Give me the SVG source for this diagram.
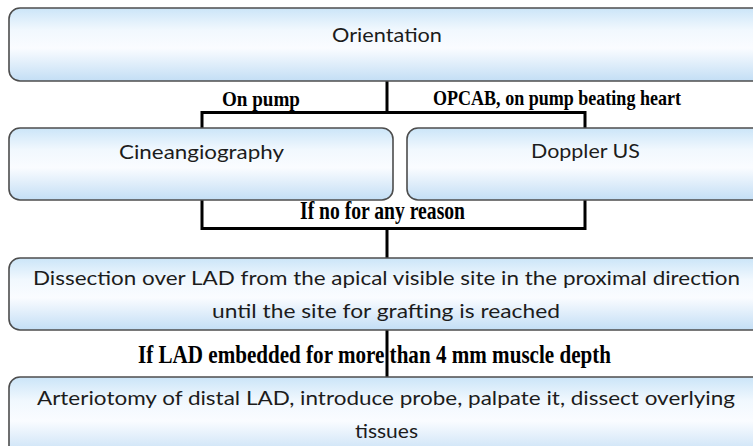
<svg xmlns="http://www.w3.org/2000/svg" width="753" height="446" viewBox="0 0 753 446">
  <defs>
    <linearGradient id="boxfill" x1="0" y1="0" x2="0" y2="1">
      <stop offset="0" stop-color="#cbe5f8"/>
      <stop offset="0.3" stop-color="#f1f8fe"/>
      <stop offset="0.55" stop-color="#fafcff"/>
      <stop offset="1" stop-color="#c3def5"/>
    </linearGradient>
  </defs>
  <style>
    .box { fill: url(#boxfill); stroke: #4d4d4d; stroke-width: 1.6; }
    .lbl { font-family: "Lato", "Open Sans", sans-serif; font-size: 20px; fill: #1c1c1c; }
    .cond { font-family: "Liberation Serif", "Times New Roman", serif; font-weight: bold; fill: #000; }
    .conn { fill: none; stroke: #000; stroke-width: 3; stroke-linejoin: miter; stroke-linecap: square; }
  </style>
  <rect width="753" height="446" fill="#ffffff"/>

  <g id="connectors">
    <path class="conn" d="M387,81 V112.5 M202,128 V112.5 H585 V128"/>
    <path class="conn" d="M202,200 V228.5 H585 V200 M387,228.5 V258"/>
    <path class="conn" d="M387,330 V377"/>
  </g>

  <g id="labels">
    <text class="cond" x="222" y="106" font-size="20" textLength="78" lengthAdjust="spacingAndGlyphs">On pump</text>
    <text class="cond" x="433" y="105" font-size="22" textLength="248" lengthAdjust="spacingAndGlyphs">OPCAB, on pump beating heart</text>
    <text class="cond" x="300" y="219" font-size="25" textLength="165" lengthAdjust="spacingAndGlyphs">If no for any reason</text>
    <text class="cond" x="138" y="363" font-size="26" textLength="473" lengthAdjust="spacingAndGlyphs">If LAD embedded for more than 4 mm muscle depth</text>
  </g>

  <g id="orientation">
    <rect class="box" x="9" y="8" width="760" height="73" rx="11"/>
    <text class="lbl" x="332" y="42" textLength="110" lengthAdjust="spacingAndGlyphs">Orientation</text>
  </g>

  <g id="cineangiography">
    <rect class="box" x="9" y="128" width="384" height="72" rx="11"/>
    <text class="lbl" x="119" y="159" textLength="165" lengthAdjust="spacingAndGlyphs">Cineangiography</text>
  </g>

  <g id="doppler">
    <rect class="box" x="407" y="128" width="362" height="72" rx="11"/>
    <text class="lbl" x="531" y="158" textLength="109" lengthAdjust="spacingAndGlyphs">Doppler US</text>
  </g>

  <g id="dissection">
    <rect class="box" x="9" y="258" width="760" height="72" rx="11"/>
    <text class="lbl" x="33" y="285" textLength="707" lengthAdjust="spacingAndGlyphs">Dissection over LAD from the apical visible site in the proximal direction</text>
    <text class="lbl" x="212" y="318" textLength="348" lengthAdjust="spacingAndGlyphs">until the site for grafting is reached</text>
  </g>

  <g id="arteriotomy">
    <rect class="box" x="9" y="377" width="760" height="80" rx="11"/>
    <text class="lbl" x="37" y="405" textLength="698" lengthAdjust="spacingAndGlyphs">Arteriotomy of distal LAD, introduce probe, palpate it, dissect overlying</text>
    <text class="lbl" x="355" y="438" textLength="63" lengthAdjust="spacingAndGlyphs">tissues</text>
  </g>
</svg>
